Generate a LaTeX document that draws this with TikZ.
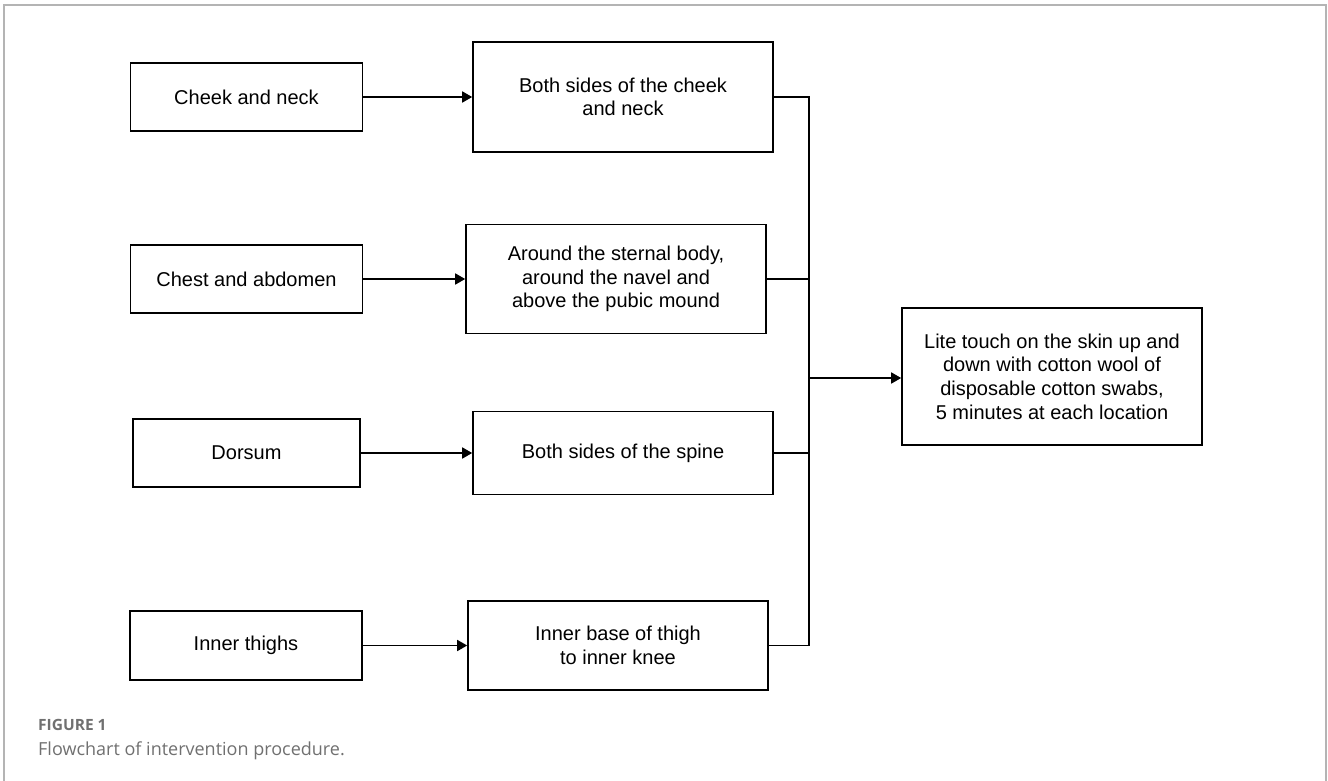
\documentclass[tikz,border=0pt]{standalone}
\usepackage{fontspec}
\setmainfont{Liberation Sans}
\newfontfamily\capfont{Open Sans}
\usetikzlibrary{arrows.meta,positioning}
\definecolor{frameGray}{HTML}{B4B4B4}
\definecolor{capGray}{HTML}{707070}

\begin{document}
\begin{tikzpicture}[
  x=1pt, y=-1pt,
  font=\fontsize{20}{23.6}\selectfont,
  src/.style={draw=black, line width=1.6pt, align=center, inner sep=0pt,
    minimum width=232pt, minimum height=68pt},
  dst/.style={draw=black, line width=1.6pt, align=center, inner sep=0pt,
    minimum width=300pt},
  arr/.style={-{Triangle[length=10pt,width=11pt]}, line width=1.6pt},
  link/.style={line width=1.6pt}
]
\useasboundingbox (0,0) rectangle (1328,781);
% frame round the figure
\draw[frameGray, line width=1.5pt] (4,781) -- (4,5) -- (1326,5) -- (1326,781);

% body regions
\node[src] (cheek) at (246.5,97) {Cheek and neck};
\node[src] (chest) at (246.5,279) {Chest and abdomen};
\node[src, minimum width=227pt] (dorsum) at (246.5,453) {Dorsum};
\node[src, minimum height=69pt] (thigh) at (246,645.5) {Inner thighs};

% exact locations
\node[dst, minimum height=110pt] (cheekarea) at (623,97) {Both sides of the cheek\\and neck};
\node[dst, minimum height=109pt] (chestarea) at (616,279) {Around the sternal body,\\around the navel and\\above the pubic mound};
\node[dst, minimum height=83pt] (spine) at (623,453) {Both sides of the spine};
\node[dst, minimum height=89pt] (knee) at (618,645.5) {Inner base of thigh\\to inner knee};

% procedure
\node[dst, minimum height=137pt] (swab) at (1052,376.5) {Lite touch on the skin up and\\down with cotton wool of\\disposable cotton swabs,\\5 minutes at each location};

\draw[arr] (cheek) -- (cheekarea);
\draw[arr] (chest) -- (chestarea);
\draw[arr] (dorsum) -- (spine);
\draw[arr] (thigh) -- (knee);

\coordinate (bus) at (809,378);
\draw[link] (cheekarea.east) -| (bus);
\draw[link] (knee.east) -| (bus);
\draw[link] (chestarea.east) -- (chestarea.east -| bus);
\draw[link] (spine.east) -- (spine.east -| bus);
\draw[arr] (bus) -- (bus -| swab.west);

% caption
\node[anchor=base west, inner sep=0pt, text=capGray, font=\capfont\bfseries\fontsize{15.5}{18}\selectfont] (figno) at (38,730) {FIGURE 1};
\node[anchor=base west, inner sep=0pt, text=capGray, font=\capfont\fontsize{18}{21}\selectfont] (caption) at (38,755) {Flowchart of intervention procedure.};
\end{tikzpicture}
\end{document}
